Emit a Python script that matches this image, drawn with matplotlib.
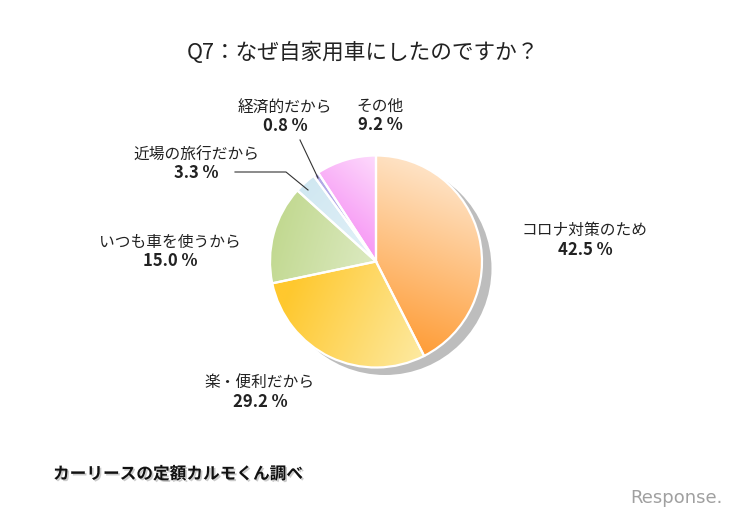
import numpy as np
import matplotlib
matplotlib.use("Agg")
import matplotlib.pyplot as plt
import matplotlib.patheffects as pe
from matplotlib.colors import to_rgb
from matplotlib.patches import Circle

plt.rcParams['font.family'] = ['Noto Sans CJK JP', 'DejaVu Sans']

title = "Q7：なぜ自家用車にしたのですか？"
categories = ["コロナ対策のため", "楽・便利だから", "いつも車を使うから",
              "近場の旅行だから", "経済的だから", "その他"]
values = [42.5, 29.2, 15.0, 3.3, 0.8, 9.2]
pct_labels = ["42.5 %", "29.2 %", "15.0 %", "3.3 %", "0.8 %", "9.2 %"]
source = "カーリースの定額カルモくん調べ"

W, H = 750, 520
fig = plt.figure(figsize=(7.5, 5.2), dpi=100)
ax = fig.add_axes([0, 0, 1, 1])

def Y(ypx):
    return H - ypx

cx, cy, r = 376, Y(261.5), 106

# shadow
ax.add_patch(Circle((cx + 9, cy - 7), r + 0.5, facecolor='#bdbdbd', edgecolor='none', zorder=1))

wedges, _ = ax.pie(values, startangle=90, counterclock=False, center=(cx, cy), radius=r,
                   colors=['white'] * len(values),
                   wedgeprops=dict(edgecolor='white', linewidth=1.6))
for w in wedges:
    w.set_zorder(2)
    w.set_facecolor('none')

# gradients: (dark color, start px), (light color, end px)
grads = [
    ('#ff9e3a', (405, 345), '#fee6cc', (470, 175)),
    ('#ffc82e', (285, 300), '#fdeaa2', (425, 360)),
    ('#c2d991', (275, 235), '#dbe9bf', (370, 262)),
    ('#cfe7f1', (290, 190), '#e2f1f8', (370, 262)),
    ('#b0a8e6', (315, 175), '#bcb4ec', (370, 262)),
    ('#f79cf5', (330, 215), '#fdd9fc', (378, 160)),
]
N = 300
xs = np.linspace(cx - r, cx + r, N)
ys = np.linspace(cy - r, cy + r, N)
XX, YY = np.meshgrid(xs, ys)
for w, (c0, p0, c1, p1) in zip(wedges, grads):
    x0, y0 = p0[0], Y(p0[1])
    x1, y1 = p1[0], Y(p1[1])
    dx, dy = x1 - x0, y1 - y0
    t = ((XX - x0) * dx + (YY - y0) * dy) / (dx * dx + dy * dy)
    t = np.clip(t, 0, 1)[..., None]
    img = np.array(to_rgb(c0)) * (1 - t) + np.array(to_rgb(c1)) * t
    im = ax.imshow(img, extent=[cx - r, cx + r, cy - r, cy + r], origin='lower',
                   interpolation='bilinear', zorder=1.5)
    im.set_clip_path(w)
for w in wedges:
    w.set_zorder(3)

# labels (center x, name y, pct y)
label_pos = [(585, 230, 250), (260, 382, 402), (170, 242, 261),
             (196, 155, 173), (285, 107, 126), (380, 106, 125)]
for name, pct, (lx, ny, py) in zip(categories, pct_labels, label_pos):
    ax.text(lx, Y(ny), name, ha='center', va='center', fontsize=11.3, color='#222222', zorder=5)
    ax.text(lx, Y(py), pct, ha='center', va='center', fontsize=12, fontweight='bold',
            color='#222222', zorder=5)

# leader lines
ax.plot([300, 318], [Y(140), Y(178)], color='#333333', lw=0.8, zorder=4)
ax.plot([235, 286, 308], [Y(172), Y(172), Y(190)], color='#333333', lw=0.8, zorder=4)

ax.text(363, Y(53), title, ha='center', va='center', fontsize=15.6, color='#222222')

ax.text(53, Y(474), source, ha='left', va='center', fontsize=12, fontweight='bold', color='#111111',
        path_effects=[pe.withSimplePatchShadow(offset=(1.2, -1.2), shadow_rgbFace='#999999', alpha=0.5)])

ax.text(676, Y(498), "Response.", ha='center', va='center', fontsize=13, color='#a0a0a0',
        family='DejaVu Sans')

ax.set_xlim(0, W)
ax.set_ylim(0, H)
ax.set_aspect('equal')
ax.set_axis_off()
fig.savefig('out.png', dpi=100, facecolor='white')
